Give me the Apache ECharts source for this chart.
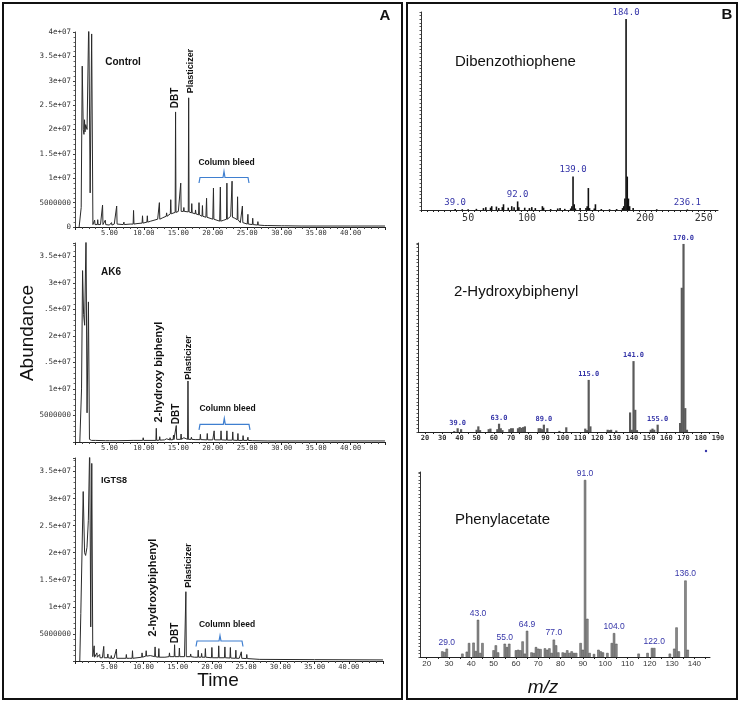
<!DOCTYPE html>
<html>
<head>
<meta charset="utf-8">
<title>GC-MS</title>
<script src="https://cdn.jsdelivr.net/npm/echarts@6/dist/echarts.min.js"></script>
<style>
  html, body { margin: 0; padding: 0; background: #fff; }
  #chart { width: 740px; height: 703px; }
</style>
</head>
<body>
<div id="chart"></div>
<script>
// ---- panel A: chromatograms, [time (min), abundance]
// baseline / solvent region
const controlBase = [
  [0.6, 0], [0.8, 2e5], [0.9, 4e6], [1.05, 3.3e7], [1.2, 2.0e7], [1.3, 1.9e7], [1.38, 2.2e7], [1.45, 1.95e7],
  [1.55, 2.1e7], [1.75, 2.0e7], [2.0, 4.3e7], [2.2, 7e6], [2.42, 3.96e7], [2.6, 5e5], [3, 6e5], [3.7, 5e5],
  [5, 4e5], [5.7, 6e5], [7, 5e5], [8, 6e5], [9, 7e5], [10, 9e5], [11, 1.2e6], [12, 1.6e6], [13, 2.2e6],
  [14, 2.8e6], [15, 3.2e6], [16, 3.2e6], [17.2, 2.8e6], [18.25, 2.4e6], [19, 2.0e6], [20, 1.6e6], [21, 1.2e6],
  [21.6, 1.4e6], [22.6, 2.2e6], [23.2, 1.8e6], [24, 9e5], [25, 6e5], [26, 4e5], [28, 3e5], [30, 2.5e5],
  [35, 2e5], [40, 2e5], [45, 2e5]
];
// peaks: [time, top, local baseline]
const controlPeaks = [
  [2.85, 1.4e6, 5e5], [3.3, 1.5e6, 5e5], [4.0, 4.5e6, 5e5], [4.4, 1.4e6, 5e5], [5.3, 9e5, 4e5], [6.05, 4.3e6, 6e5],
  [7.1, 1.0e6, 5e5], [8.5, 3.4e6, 6e5], [9.8, 2.3e6, 8e5], [10.5, 2.3e6, 1.0e6], [11.2, 1.4e6, 1.2e6],
  [12.25, 5.0e6, 1.6e6], [12.8, 2.0e6, 1.9e6], [13.3, 2.9e6, 2.2e6], [13.9, 5.6e6, 2.7e6], [14.6, 2.36e7, 3.0e6],
  [15.35, 9.0e6, 3.2e6], [15.8, 4.0e6, 3.2e6], [16.5, 2.65e7, 3.1e6], [16.95, 4.8e6, 2.9e6], [17.5, 3.5e6, 2.7e6],
  [18.0, 5.0e6, 2.5e6], [18.5, 4.4e6, 2.2e6], [19.1, 5.9e6, 2.0e6], [20.1, 8.0e6, 1.6e6], [21.1, 8.2e6, 1.2e6],
  [22.05, 9.0e6, 1.6e6], [22.8, 9.4e6, 2.0e6], [23.6, 6.2e6, 1.5e6], [24.3, 4.3e6, 9e5], [25.1, 2.6e6, 6e5],
  [25.8, 1.8e6, 5e5], [26.55, 1.1e6, 4e5], [27.6, 6e5, 3e5], [30.5, 4e5, 2.5e5], [33, 3.5e5, 2e5]
];

const ak6Base = [
  [0.7, 0], [0.85, 3e5], [0.95, 1.0e7], [1.1, 3.23e7], [1.25, 2.4e7], [1.4, 2.2e7], [1.6, 3.9e7], [1.75, 5.5e6],
  [1.95, 2.64e7], [2.1, 5e5], [2.4, 3e5], [5, 2.5e5], [10, 3e5], [13, 4e5], [15, 5e5], [17, 5e5], [20, 4e5],
  [25, 3e5], [28, 2e5], [35, 2e5], [45, 2e5]
];
const ak6Peaks = [
  [3.0, 6e5, 3e5], [4.5, 5e5, 2.5e5], [6.3, 6e5, 2.5e5], [8.5, 5e5, 3e5], [9.9, 8e5, 3e5], [11.8, 2.58e6, 3e5],
  [12.3, 1.0e6, 3.5e5], [13.3, 6e5, 4e5], [13.8, 8e5, 4e5], [14.3, 1.3e6, 4.5e5], [14.7, 3.1e6, 5e5],
  [15.4, 1.5e6, 5e5], [15.8, 8e5, 5e5], [16.4, 1.15e7, 5e5], [16.9, 9e5, 5e5], [17.5, 7e5, 4.5e5],
  [18.2, 1.45e6, 4.5e5], [19.2, 1.6e6, 4e5], [20.2, 2.1e6, 4e5], [21.2, 2.1e6, 4e5], [22.05, 2.1e6, 3.5e5],
  [22.9, 1.9e6, 3.5e5], [23.65, 1.6e6, 3e5], [24.4, 1.2e6, 3e5], [25.1, 9e5, 3e5], [25.8, 6e5, 2.5e5]
];

const igtsBase = [
  [0.7, 0], [0.8, 3e5], [0.85, 8.8e6], [1.2, 3.13e7], [1.4, 2.0e7], [1.55, 1.95e7], [1.75, 2.1e7], [1.95, 2.6e7],
  [2.15, 4.0e7], [2.3, 6.3e6], [2.45, 3.65e7], [2.6, 8e5], [3, 7e5], [4, 6e5], [5.7, 5e5], [8, 5e5], [10, 7e5],
  [11, 1.0e6], [12, 7e5], [14, 8e5], [16, 8e5], [18.25, 7e5], [20.45, 6e5], [24, 5e5], [27, 3e5], [35, 2.5e5],
  [45, 2e5]
];
const igtsPeaks = [
  [2.8, 2.8e6, 7e5], [3.2, 1.5e6, 7e5], [3.6, 1.2e6, 6e5], [4.2, 2.7e6, 6e5], [4.8, 1.3e6, 6e5], [5.3, 1.0e6, 5e5],
  [6.05, 2.2e6, 5e5], [7.5, 1.2e6, 5e5], [8.4, 1.9e6, 5e5], [9.8, 1.5e6, 7e5], [10.4, 1.9e6, 9e5],
  [11.7, 2.6e6, 8e5], [12.25, 2.3e6, 7e5], [13.2, 1.0e6, 7e5], [13.8, 1.5e6, 8e5], [14.55, 3.0e6, 8e5],
  [15.25, 2.4e6, 8e5], [16.2, 1.28e7, 8e5], [16.9, 1.3e6, 8e5], [17.5, 1.0e6, 7e5], [18.0, 2.0e6, 7e5],
  [18.5, 1.4e6, 7e5], [19.05, 2.3e6, 7e5], [20.0, 2.5e6, 6e5], [21.0, 2.8e6, 6e5], [21.9, 2.6e6, 6e5],
  [22.7, 2.5e6, 5.5e5], [23.5, 2.0e6, 5e5], [24.3, 1.7e6, 5e5], [25.1, 1.2e6, 4.5e5]
];

// ---- panel B: mass spectra, m/z and relative intensity
const dbtMz = [39, 45, 50, 57, 63, 65, 69, 70, 74, 76, 79, 80, 84, 87, 89, 92, 93, 98, 102, 104, 107, 113, 114, 120,
  126, 128, 132, 137, 138, 139, 140, 141, 145, 150, 151, 152, 153, 157, 158, 163, 170, 176, 181, 182, 183, 184,
  185, 186, 187, 190, 210, 236];
const dbtInt = [0.005, 0.004, 0.004, 0.006, 0.01, 0.015, 0.012, 0.02, 0.018, 0.01, 0.015, 0.03, 0.012, 0.02, 0.015,
  0.045, 0.015, 0.012, 0.01, 0.015, 0.01, 0.02, 0.012, 0.005, 0.008, 0.01, 0.006, 0.008, 0.02, 0.176, 0.03, 0.008,
  0.01, 0.01, 0.02, 0.115, 0.01, 0.008, 0.03, 0.005, 0.004, 0.005, 0.01, 0.02, 0.06, 1.0, 0.175, 0.06, 0.02, 0.01,
  0.004, 0.003];
const dbtLabelMz = [39, 92, 139, 184, 236];
const dbtLabelText = ['39.0', '92.0', '139.0', '184.0', '236.1'];

const hbMz = [37, 39, 41, 50, 51, 52, 57, 58, 62, 63, 64, 65, 69, 70, 71, 74, 75, 76, 77, 78, 86, 87, 88, 89, 91,
  98, 102, 113, 114, 115, 116, 126, 127, 128, 131, 139, 140, 141, 142, 143, 151, 152, 153, 155, 168, 169, 170,
  171, 172];
const hbInt = [0.005, 0.02, 0.015, 0.012, 0.03, 0.01, 0.015, 0.018, 0.015, 0.044, 0.02, 0.01, 0.015, 0.02, 0.02,
  0.02, 0.026, 0.022, 0.026, 0.03, 0.02, 0.02, 0.015, 0.039, 0.02, 0.006, 0.025, 0.018, 0.01, 0.277, 0.03, 0.012,
  0.01, 0.012, 0.008, 0.104, 0.012, 0.377, 0.118, 0.01, 0.012, 0.018, 0.012, 0.039, 0.048, 0.767, 1.0, 0.127,
  0.012];
const hbLabelMz = [39, 63, 89, 115, 141, 155, 170];
const hbLabelText = ['39.0', '63.0', '89.0', '115.0', '141.0', '155.0', '170.0'];

const paMz = [27, 28, 29, 36, 38, 39, 41, 42, 43, 44, 45, 50, 51, 52, 55, 56, 57, 60, 61, 62, 63, 64, 65, 67, 68,
  69, 70, 71, 73, 74, 75, 76, 77, 78, 79, 81, 82, 83, 84, 85, 86, 87, 89, 90, 91, 92, 93, 95, 97, 98, 99, 101,
  103, 104, 105, 115, 119, 121, 122, 129, 131, 132, 133, 136, 137];
const paInt = [0.032, 0.028, 0.047, 0.019, 0.03, 0.079, 0.081, 0.034, 0.21, 0.023, 0.079, 0.038, 0.066, 0.026,
  0.075, 0.056, 0.075, 0.038, 0.041, 0.038, 0.088, 0.019, 0.148, 0.026, 0.023, 0.056, 0.047, 0.045, 0.049, 0.041,
  0.049, 0.023, 0.098, 0.066, 0.026, 0.026, 0.023, 0.038, 0.023, 0.032, 0.023, 0.023, 0.079, 0.041, 1.0, 0.216,
  0.023, 0.017, 0.041, 0.032, 0.026, 0.023, 0.079, 0.135, 0.075, 0.019, 0.023, 0.051, 0.051, 0.019, 0.047, 0.167,
  0.032, 0.432, 0.041];
const paLabelMz = [29, 43, 55, 65, 77, 91, 104, 122, 136];
const paLabelText = ['29.0', '43.0', '55.0', '64.9', '77.0', '91.0', '104.0', '122.0', '136.0'];

// axis tick labels
const dbtTicks = [50, 100, 150, 200, 250];
const hbTicks = [20, 30, 40, 50, 60, 70, 80, 90, 100, 110, 120, 130, 140, 150, 160, 170, 180, 190];
const paTicks = [20, 30, 40, 50, 60, 70, 80, 90, 100, 110, 120, 130, 140];

const BLUE = '#3535a8';
const MONO = '"DejaVu Sans Mono", monospace';
const SANS = '"Liberation Sans", Arial, sans-serif';

function trace(base, peaks) {
  const pts = base.slice();
  peaks.forEach(([t, h, b]) => pts.push([t - 0.06, b], [t, h], [t + 0.06, b]));
  return pts.sort((a, b) => a[0] - b[0]);
}

function spectrum(mz, inten, labMz, labText) {
  return mz.map((m, i) => {
    const item = { value: [m, inten[i]] };
    const k = labMz.indexOf(m);
    if (k >= 0) item.label = { show: true, formatter: labText[k] };
    return item;
  });
}

function sciLabel(v) {
  if (v === 0) return '0';
  if (v < 1e7) return String(v);
  return (+(v / 1e7).toFixed(2)) + 'e+07';
}

const chart = echarts.init(document.getElementById('chart'), null, { renderer: 'canvas' });

const grids = [
  { left: 75, top: 32, width: 310, height: 195 },
  { left: 75, top: 243, width: 310, height: 199 },
  { left: 75, top: 458, width: 308, height: 203 },
  { left: 421, top: 12, width: 297, height: 198 },
  { left: 418, top: 243, width: 300, height: 189 },
  { left: 420, top: 472, width: 290, height: 185 }
];

const chromYMax = [4e7, 3.75e7, 3.75e7];
const xAxes = [], yAxes = [];
for (let i = 0; i < 3; i++) {
  xAxes.push({
    type: 'value', gridIndex: i, min: 0, max: 45, interval: 5,
    axisLine: { lineStyle: { color: '#222', width: 1 } },
    axisTick: { length: 3, lineStyle: { color: '#222' } },
    minorTick: { show: true, splitNumber: 5, length: 2, lineStyle: { color: '#444' } },
    splitLine: { show: false },
    axisLabel: {
      showMinLabel: false, showMaxLabel: false, formatter: v => v.toFixed(2),
      fontFamily: MONO, fontSize: 7, color: '#333', margin: 3
    }
  });
  yAxes.push({
    type: 'value', gridIndex: i, min: 0, max: chromYMax[i], interval: 5e6,
    axisLine: { show: true, lineStyle: { color: '#444', width: 1 } },
    axisTick: { show: true, length: 2, lineStyle: { color: '#444' } },
    minorTick: { show: true, splitNumber: 5, length: 1.5, lineStyle: { color: '#666' } },
    splitLine: { show: false },
    axisLabel: {
      showMinLabel: i === 0, showMaxLabel: i === 0, formatter: sciLabel,
      fontFamily: MONO, fontSize: 7.5, color: '#333', margin: 4
    }
  });
}

const specX = [
  { min: 10, max: 262, ticks: dbtTicks, font: 10 },
  { min: 16, max: 190, ticks: hbTicks, font: 7 },
  { min: 17, max: 147, ticks: paTicks, font: 8 }
];
const specYMax = [1.037, 1.005, 1.045];
specX.forEach((s, j) => {
  const minor = [];
  for (let v = Math.ceil(s.min / 5) * 5; v <= s.max; v += 5) minor.push(v);
  xAxes.push({
    type: 'value', gridIndex: 3 + j, min: s.min, max: s.max,
    axisLine: { lineStyle: { color: '#222', width: 1 } },
    axisTick: { customValues: minor, length: 2, lineStyle: { color: '#222' } },
    splitLine: { show: false },
    axisLabel: {
      customValues: s.ticks, fontFamily: j === 2 ? SANS : MONO, fontSize: s.font,
      color: '#333', margin: 3, fontWeight: j === 1 ? 'bold' : 'normal'
    }
  });
  yAxes.push({
    type: 'value', gridIndex: 3 + j, min: 0, max: specYMax[j], interval: 0.02,
    axisLine: { show: true, lineStyle: { color: '#333', width: 1 } },
    axisTick: { show: true, length: 1.5, lineStyle: { color: '#555' } },
    splitLine: { show: false },
    axisLabel: { show: false }
  });
});

const chromData = [trace(controlBase, controlPeaks), trace(ak6Base, ak6Peaks), trace(igtsBase, igtsPeaks)];
const series = chromData.map((d, i) => ({
  type: 'line', xAxisIndex: i, yAxisIndex: i, data: d, showSymbol: false, symbol: 'none',
  lineStyle: { color: '#2a2a2a', width: 1 }, sampling: 'none', clip: true, silent: true
}));

const specLabel = (font, size, bold) => ({
  show: false, position: 'top', distance: 2, color: BLUE,
  fontFamily: font, fontSize: size, fontWeight: bold ? 'bold' : 'normal'
});
series.push({
  type: 'bar', xAxisIndex: 3, yAxisIndex: 3, barWidth: 1.6, barGap: '-100%',
  data: spectrum(dbtMz, dbtInt, dbtLabelMz, dbtLabelText),
  itemStyle: { color: '#111' }, label: specLabel(MONO, 9, false), silent: true
});
series.push({
  type: 'bar', xAxisIndex: 4, yAxisIndex: 4, barWidth: 2.2, barGap: '-100%',
  data: spectrum(hbMz, hbInt, hbLabelMz, hbLabelText),
  itemStyle: { color: '#5a5a5a' }, label: specLabel(MONO, 7, true), silent: true
});
series.push({
  type: 'bar', xAxisIndex: 5, yAxisIndex: 5, barWidth: 2.4, barGap: '-100%',
  data: spectrum(paMz, paInt, paLabelMz, paLabelText),
  itemStyle: { color: '#8a8a8a', borderColor: '#4a4a4a', borderWidth: 0.5 },
  label: specLabel(SANS, 8.5, false), silent: true
});

// annotations
function vtext(text, x, y, size) {
  return {
    type: 'text', x: x, y: y, rotation: Math.PI / 2, z: 50,
    style: { text: text, x: 0, y: 0, fill: '#111', font: 'bold ' + size + 'px ' + SANS, align: 'center', verticalAlign: 'middle' }
  };
}
function htext(text, x, y, font, align) {
  return {
    type: 'text', x: x, y: y, z: 50,
    style: { text: text, x: 0, y: 0, fill: '#111', font: font, align: align || 'center', verticalAlign: 'middle' }
  };
}
function brace(x1, x2, y, drop, notchX, notchUp) {
  return {
    type: 'polyline', z: 50,
    shape: { points: [[x1, y + drop], [x1 + 1, y], [notchX - 1, y], [notchX, y - notchUp], [notchX + 1, y], [x2 - 1, y], [x2, y + drop]] },
    style: { stroke: '#3f7fd0', lineWidth: 1.2, fill: null }
  };
}

const graphic = [
  { type: 'rect', z: 60, shape: { x: 3, y: 3, width: 399, height: 696 }, style: { fill: null, stroke: '#111', lineWidth: 2 } },
  { type: 'rect', z: 60, shape: { x: 407, y: 3, width: 330, height: 696 }, style: { fill: null, stroke: '#111', lineWidth: 2 } },
  htext('A', 385, 16, 'bold 15px ' + SANS),
  htext('B', 727, 15, 'bold 15px ' + SANS),
  // white patch over part of the AK6 axis labels, as in the original
  { type: 'rect', z: 40, shape: { x: 12, y: 300, width: 32.5, height: 68 }, style: { fill: '#fff' } },
  {
    type: 'text', x: 28, y: 333, rotation: Math.PI / 2, z: 55,
    style: { text: 'Abundance', x: 0, y: 0, fill: '#111', font: '19px ' + SANS, align: 'center', verticalAlign: 'middle' }
  },
  htext('Time', 218, 681, '19px ' + SANS),
  htext('m/z', 543, 688, 'italic 19px ' + SANS),

  // Control
  htext('Control', 123, 62, 'bold 10px ' + SANS),
  vtext('DBT', 175, 98, 10),
  vtext('Plasticizer', 190.5, 71, 9),
  htext('Column bleed', 226.5, 162.5, 'bold 8.5px ' + SANS),
  brace(199, 249, 177.5, 5.5, 224, 6),
  // AK6
  htext('AK6', 111, 272, 'bold 10px ' + SANS),
  vtext('2-hydroxy biphenyl', 158.5, 372, 11),
  vtext('DBT', 176, 414, 10),
  vtext('Plasticizer', 189, 357.5, 9),
  htext('Column bleed', 227.5, 408.5, 'bold 8.5px ' + SANS),
  brace(199, 250, 424.3, 5.5, 224.3, 6),
  // IGTS8
  htext('IGTS8', 114, 481, 'bold 9px ' + SANS),
  vtext('2-hydroxybiphenyl', 152.5, 587.5, 11),
  vtext('DBT', 175, 633, 10),
  vtext('Plasticizer', 189, 565.5, 9),
  htext('Column bleed', 227, 625, 'bold 8.5px ' + SANS),
  brace(196, 243, 641, 5.5, 220, 5.5),

  // spectra titles
  htext('Dibenzothiophene', 455, 62, '15px ' + SANS, 'left'),
  htext('2-Hydroxybiphenyl', 454, 292, '15px ' + SANS, 'left'),
  htext('Phenylacetate', 455, 520, '15px ' + SANS, 'left'),
  { type: 'circle', z: 50, shape: { cx: 706, cy: 451, r: 1.2 }, style: { fill: BLUE } }
];

chart.setOption({
  animation: false,
  backgroundColor: '#fff',
  grid: grids,
  xAxis: xAxes,
  yAxis: yAxes,
  series: series,
  graphic: graphic
});
</script>
</body>
</html>
